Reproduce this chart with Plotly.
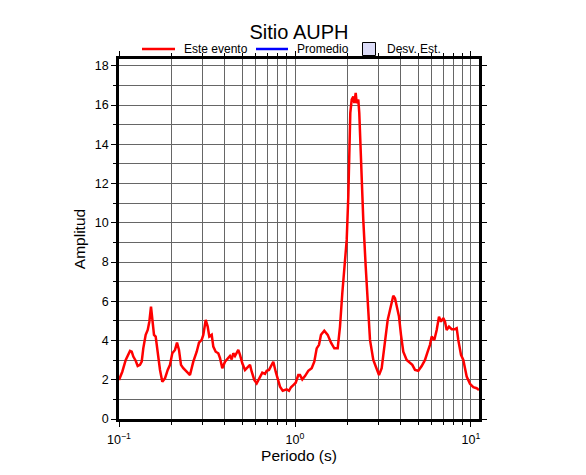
import plotly.graph_objects as go

# Periodo (s) and amplitude of "Este evento"
periodo = [
    0.1000, 0.1044, 0.1092, 0.1121, 0.1155, 0.1181, 0.1206, 0.1244, 0.1277, 0.1316,
    0.1346, 0.1374, 0.1418, 0.1456, 0.1487, 0.1520, 0.1546, 0.1581, 0.1616, 0.1659,
    0.1710, 0.1762, 0.1825, 0.1891, 0.1949, 0.2008, 0.2080, 0.2136, 0.2192, 0.2250,
    0.2319, 0.2424, 0.2531, 0.2643, 0.2764, 0.2848, 0.2950, 0.3013, 0.3109, 0.3191,
    0.3259, 0.3363, 0.3434, 0.3543, 0.3666, 0.3749, 0.3863, 0.4002, 0.4146, 0.4272,
    0.4368, 0.4461, 0.4561, 0.4762, 0.4870, 0.5019, 0.5199, 0.5386, 0.5550, 0.5675,
    0.5871, 0.6059, 0.6327, 0.6520, 0.6754, 0.6906, 0.7117, 0.7306, 0.7529, 0.7769,
    0.7976, 0.8219, 0.8515, 0.8775, 0.8972, 0.9247, 0.9492, 0.9780, 1.0092, 1.0441,
    1.0676, 1.1002, 1.1397, 1.1900, 1.2441, 1.2872, 1.3283, 1.3689, 1.4052, 1.4672,
    1.5340, 1.6017, 1.6724, 1.7484, 1.8019, 1.8569, 1.9237, 1.9670, 2.0086, 2.0350,
    2.0618, 2.1000, 2.1444, 2.1726, 2.2128, 2.2419, 2.2893, 2.3188, 2.3714, 2.4438,
    2.5218, 2.5887, 2.6678, 2.7855, 2.9121, 3.0011, 3.1087, 3.2163, 3.3627, 3.4654,
    3.5713, 3.6183, 3.7000, 3.7830, 3.8987, 4.0016, 4.1237, 4.3113, 4.5016, 4.6392,
    4.8060, 5.0185, 5.2468, 5.4784, 5.6751, 5.8486, 5.9800, 6.1870, 6.3843, 6.5793,
    6.7539, 6.9601, 7.1166, 7.2766, 7.4989, 7.7693, 8.1120, 8.2944, 8.4700, 8.7748,
    9.0430, 9.4530, 9.8700, 10.305, 10.774, 11.100,
]
amplitud = [
    1.99, 2.41, 3.01, 3.27, 3.47, 3.43, 3.18, 2.97, 2.70, 2.76,
    2.92, 3.60, 4.29, 4.54, 4.96, 5.73, 5.22, 4.29, 4.20, 3.35,
    2.50, 1.90, 2.07, 2.50, 2.76, 3.35, 3.52, 3.89, 3.52, 2.76,
    2.59, 2.41, 2.24, 2.92, 3.43, 3.89, 4.03, 4.29, 5.05, 4.71,
    4.20, 4.29, 3.69, 3.43, 3.35, 3.10, 2.59, 2.92, 3.10, 3.21,
    3.04, 3.35, 3.21, 3.52, 3.27, 2.84, 2.50, 2.67, 2.76, 2.41,
    1.99, 1.82, 2.16, 2.36, 2.30, 2.46, 2.50, 2.70, 2.92, 2.41,
    1.99, 1.65, 1.44, 1.48, 1.51, 1.44, 1.62, 1.73, 1.85, 2.24,
    2.24, 2.02, 2.19, 2.46, 2.59, 2.92, 3.60, 3.78, 4.29, 4.50,
    4.29, 3.89, 3.60, 3.60, 4.71, 6.41, 7.94, 9.13, 11.34, 13.89,
    15.60, 16.28, 16.44, 16.10, 16.62, 16.10, 16.28, 15.60, 13.05, 10.15,
    7.77, 5.73, 4.03, 3.01, 2.50, 2.24, 2.59, 3.69, 5.05, 5.56,
    5.98, 6.28, 6.16, 5.73, 5.22, 4.29, 3.43, 3.01, 2.84, 2.76,
    2.50, 2.46, 2.70, 3.01, 3.43, 3.78, 4.20, 4.03, 4.54, 5.22,
    4.96, 5.14, 4.96, 4.54, 4.71, 4.58, 4.58, 4.63, 4.03, 3.27,
    3.01, 2.16, 1.79, 1.62, 1.57, 1.48,
]

x_tickvals = [0.1, 1, 10]
x_ticktext = ["10<sup>\u22121</sup>", "10<sup>0</sup>", "10<sup>1</sup>"]
x_minorvals = [0.2, 0.3, 0.4, 0.5, 0.6, 0.7, 0.8, 0.9, 2, 3, 4, 5, 6, 7, 8, 9]

legend_labels = ["Este evento", "Promedio", "Desv. Est."]

FONT = "Liberation Sans, Arial, Helvetica, sans-serif"
GRID = "#666666"
W, H = 578, 467  # page body adds an 8px margin
PW = 360          # plot width/height in px


def px(p):  # horizontal pixel offset from plot left -> paper fraction
    return p / PW


def py(p):  # vertical pixel offset above plot top -> paper fraction
    return 1 + p / PW


fig = go.Figure()
fig.add_trace(go.Scatter(x=periodo, y=amplitud, mode="lines", name=legend_labels[0],
                         line=dict(color="red", width=2.5)))

# legend row drawn above the plot (line, line, box)
LY = py(10)
shapes = [
    dict(type="line", xref="paper", yref="paper", x0=px(23), x1=px(56), y0=LY, y1=LY,
         line=dict(color="red", width=2.5)),
    dict(type="line", xref="paper", yref="paper", x0=px(137), x1=px(169), y0=LY, y1=LY,
         line=dict(color="blue", width=2.5)),
    dict(type="rect", xref="paper", yref="paper", x0=px(243.5), x1=px(256.5),
         y0=py(3.5), y1=py(16.5), fillcolor="#dcdcf8", line=dict(color="black", width=1)),
]
annotations = [
    dict(text=legend_labels[0], x=px(62.5), y=LY),
    dict(text=legend_labels[1], x=px(176), y=LY),
    dict(text=legend_labels[2], x=px(265.5), y=LY),
]
for a in annotations:
    a.update(xref="paper", yref="paper", xanchor="left", yanchor="middle",
             showarrow=False, font=dict(size=12, family=FONT, color="black"))

fig.update_layout(
    width=W, height=H,
    margin=dict(l=111, r=W - 111 - PW, t=51, b=H - 51 - PW),
    paper_bgcolor="white", plot_bgcolor="white",
    font=dict(family=FONT, color="black", size=12),
    title=dict(text="Sitio AUPH", x=0.5, xref="paper", xanchor="center",
               y=1 - 24 / H, yref="container", yanchor="middle",
               font=dict(size=20, family=FONT, color="black")),
    showlegend=False,
    shapes=shapes,
    annotations=annotations,
    xaxis=dict(
        type="log", range=[-1, 1.0455],
        tickvals=x_tickvals, ticktext=x_ticktext,
        ticks="outside", ticklen=5, tickwidth=1, tickcolor="black",
        tickfont=dict(size=12.5), ticklabelstandoff=2,
        showline=True, linewidth=2.5, linecolor="black", mirror="ticks",
        showgrid=True, gridcolor=GRID, gridwidth=1, zeroline=False,
        minor=dict(tickvals=x_minorvals, ticks="outside", ticklen=3, tickwidth=1,
                   tickcolor="black", showgrid=True, gridcolor=GRID, gridwidth=1),
        title=dict(text="Periodo (s)", font=dict(size=15.5), standoff=0),
    ),
    yaxis=dict(
        range=[0, 18.35], tick0=0, dtick=2,
        ticks="outside", ticklen=5, tickwidth=1, tickcolor="black",
        tickfont=dict(size=12.5), ticklabelstandoff=0,
        showline=True, linewidth=2.5, linecolor="black", mirror="ticks",
        showgrid=True, gridcolor=GRID, gridwidth=1, zeroline=False,
        minor=dict(dtick=1, tick0=0, ticks="outside", ticklen=3, tickwidth=1,
                   tickcolor="black", showgrid=True, gridcolor=GRID, gridwidth=1),
        title=dict(text="Amplitud", font=dict(size=15.5), standoff=6),
    ),
)

fig.write_html("out.html")
